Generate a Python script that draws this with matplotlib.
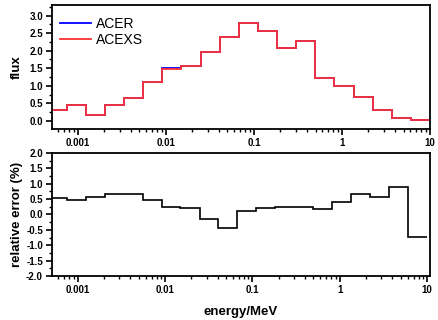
import matplotlib
matplotlib.use("Agg")
import matplotlib.pyplot as plt
from matplotlib.ticker import MultipleLocator, FixedLocator, FixedFormatter, LogLocator, NullFormatter

plt.rcParams['font.family'] = ['Liberation Sans', 'DejaVu Sans']
plt.rcParams['font.weight'] = 'bold'

# energy group edges (MeV)
edges = [0.000454, 0.000749, 0.00123, 0.00203, 0.00335, 0.00553, 0.00912,
         0.0150, 0.0248, 0.0409, 0.0674, 0.111, 0.183, 0.302, 0.498,
         0.821, 1.353, 2.231, 3.679, 6.065, 10.0]

# flux per group
flux_acexs = [0.31, 0.46, 0.16, 0.45, 0.66, 1.11, 1.49, 1.55, 1.97, 2.38,
              2.78, 2.55, 2.09, 2.27, 1.23, 1.00, 0.68, 0.30, 0.085, 0.017]
flux_acer = [0.312, 0.462, 0.161, 0.453, 0.664, 1.115, 1.493, 1.553, 1.967, 2.378,
             2.800, 2.556, 2.090, 2.290, 1.232, 1.004, 0.684, 0.302, 0.086, 0.017]

# relative error (%)
rel_err = [0.52, 0.47, 0.56, 0.66, 0.65, 0.47, 0.23, 0.20, -0.16, -0.44,
           0.10, 0.21, 0.23, 0.23, 0.16, 0.40, 0.65, 0.57, 0.90, -0.73]

x_ticks = [0.001, 0.01, 0.1, 1, 10]
x_labels = ["0.001", "0.01", "0.1", "1", "10"]

fig = plt.figure(figsize=(4.39, 3.2), dpi=100)
ax1 = fig.add_axes([0.1185, 0.596, 0.861, 0.388])
ax2 = fig.add_axes([0.1185, 0.1375, 0.861, 0.385])

ax1.stairs(flux_acer, edges, baseline=None, color="#0000ff", lw=1.3, label="ACER")
ax1.stairs(flux_acexs, edges, baseline=None, color="#ff3333", lw=1.3, label="ACEXS")
ax2.stairs(rel_err, edges, baseline=None, color="black", lw=1.2)

ax1.set_xlim(5.07e-4, 10)
ax1.set_ylim(-0.24, 3.3)
ax2.set_xlim(5.08e-4, 10.8)
ax2.set_ylim(-2.0, 2.0)

for ax in (ax1, ax2):
    ax.set_xscale("log")
    ax.xaxis.set_major_locator(FixedLocator(x_ticks))
    ax.xaxis.set_major_formatter(FixedFormatter(x_labels))
    ax.xaxis.set_minor_locator(LogLocator(base=10, subs=range(2, 10)))
    ax.xaxis.set_minor_formatter(NullFormatter())
    ax.yaxis.set_major_locator(MultipleLocator(0.5))
    ax.yaxis.set_minor_locator(MultipleLocator(0.25))
    ax.yaxis.set_major_formatter(plt.FormatStrFormatter("%.1f"))
    ax.tick_params(which="major", direction="out", length=4, width=1.2,
                   labelsize=7, pad=2.5)
    ax.tick_params(which="minor", direction="out", length=2, width=1.0)
    for s in ax.spines.values():
        s.set_linewidth(1.3)

ax1.set_ylabel("flux", fontsize=9.5, fontweight="bold", labelpad=5)
ax2.set_ylabel("relative error (%)", fontsize=9.5, fontweight="bold", labelpad=2)
ax2.set_xlabel("energy/MeV", fontsize=9.5, fontweight="bold", labelpad=8)

ax1.legend(loc="upper left", bbox_to_anchor=(0.0, 0.975), frameon=False,
           handlelength=2.2, handletextpad=0.4, labelspacing=0.15,
           borderaxespad=0.2,
           prop={"family": "Liberation Sans", "weight": "normal", "size": 10})

fig.savefig("out.png", dpi=100)
